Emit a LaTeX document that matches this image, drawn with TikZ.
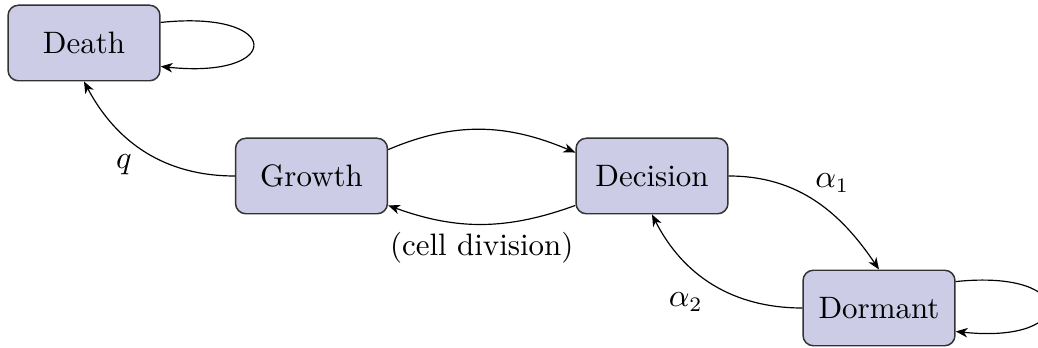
\documentclass[tikz,border=0pt]{standalone}
\usetikzlibrary{arrows.meta}
\definecolor{statefill}{RGB}{204,204,230}
\definecolor{stateborder}{RGB}{50,50,50}
\begin{document}
\begin{tikzpicture}[x=0.339pt,y=0.339pt,
  every node/.style={font=\fontsize{10.5}{12.6}\selectfont},
  state/.style={draw=stateborder,fill=statefill,rounded corners=3.5pt,
    minimum width=51.5pt,minimum height=25.6pt,inner sep=2pt,line width=0.5pt},
  link/.style={line width=0.4pt,-{Stealth[length=4pt,width=3.2pt,inset=1.2pt]}}]
\useasboundingbox (0,0) rectangle (1038,-348);
\node[state] (death) at (84,-43) {Death};
\node[state] (growth) at (311.5,-176) {Growth};
\node[state] (decision) at (652,-176) {Decision};
\node[state] (dormant) at (879,-308) {Dormant};

\draw[link] (growth.west) to[out=180,in=-62] node[pos=0.55,below left,inner sep=5pt,xshift=3pt,yshift=2.4pt] {$q$} (death.south);
\draw[link] (death.15) .. controls +(123,13) and +(123,-13) .. (death.-17.5);
\draw[link] (growth.19) to[out=23,in=157] (decision.163);
\draw[link] (decision.201) to[out=200,in=-20] node[midway,below,inner sep=3pt,yshift=0.5pt] {(cell division)} (growth.-21);
\draw[link] (decision.east) to[out=0,in=124] node[pos=0.45,above right,inner sep=5pt,xshift=-2.7pt,yshift=-3.7pt] {$\alpha_1$} (dormant.north);
\draw[link] (dormant.west) to[out=180,in=-63] node[pos=0.5,below left,inner sep=5pt,xshift=1.7pt,yshift=2.4pt] {$\alpha_2$} (decision.south);
\draw[link] (dormant.19) .. controls +(123,13) and +(123,-13) .. (dormant.-17);
\end{tikzpicture}
\end{document}
